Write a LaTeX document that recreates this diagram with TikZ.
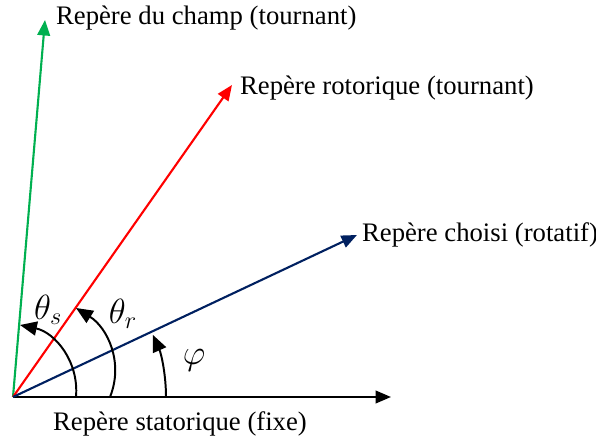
\documentclass[tikz,border=0pt]{standalone}
\usepackage{fontspec}
\setmainfont{Liberation Serif}
\usetikzlibrary{arrows.meta}
\tikzset{every node/.style={font=\fontsize{19}{22}\selectfont}}

\begin{document}
\begin{tikzpicture}[x=1cm, y=1cm, >={Triangle[length=11pt, width=9pt]}]
  % Bounding box fixe (proportions de la figure)
  \path[use as bounding box] (-0.325,-1.1) rectangle (14.575,9.925);

  % Couleurs des reperes.
  \colorlet{statcol}{black}
  \definecolor{champcol}{RGB}{0,176,80}
  \definecolor{rotcol}{RGB}{255,0,0}
  \definecolor{choixcol}{RGB}{0,32,96}

  % Origine et extremites des axes.
  \coordinate (O) at (0,0);
  \coordinate (S) at (9.45,0);
  \coordinate (C) at (0.8,9.425);
  \coordinate (R) at (5.475,7.8);
  \coordinate (X) at (8.6,4.05);

  % Axes des reperes.
  \draw[->, line width=1.5pt, statcol] (O) -- (S);
  \draw[->, line width=1.5pt, champcol] (O) -- (C);
  \draw[->, line width=1.5pt, rotcol] (O) -- (R);
  \draw[->, line width=1.5pt, choixcol] (O) -- (X);

  % Noms des reperes.
  \node[right, inner sep=2pt] (lchamp) at (1.0,9.475) {Repère du champ (tournant)};
  \node[right, inner sep=2pt] (lrot) at (5.6,7.725) {Repère rotorique (tournant)};
  \node[right, inner sep=2pt] (lchoix) at (8.65,4.05) {Repère choisi (rotatif)};
  \node[inner sep=2pt] (lstat) at (4.175,-0.68) {Repère statorique (fixe)};

  % Angles.
  \coordinate (a1) at (1.575,0);
  \coordinate (a1e) at (0.175,1.8);
  \coordinate (a2) at (2.425,0);
  \coordinate (a2e) at (1.575,2.225);
  \draw[-{Triangle[length=12pt, width=10pt]}, line width=1.4pt] (a1) to[out=85, in=-12] (a1e);
  \draw[-{Triangle[length=12pt, width=10pt]}, line width=1.4pt] (a2) to[out=68, in=-32] (a2e);
  \draw[-{Triangle[length=12pt, width=10pt]}, line width=1.4pt] (3.825,0) arc[start angle=0, end angle=24, radius=3.825];

  \node[font=\fontsize{24}{28}\selectfont] (ths) at (0.875,2.175) {$\theta_s$};
  \node[font=\fontsize{24}{28}\selectfont] (thr) at (2.75,2.075) {$\theta_r$};
  \node[font=\fontsize{24}{28}\selectfont] (phi) at (4.525,0.925) {$\varphi$};
\end{tikzpicture}
\end{document}
